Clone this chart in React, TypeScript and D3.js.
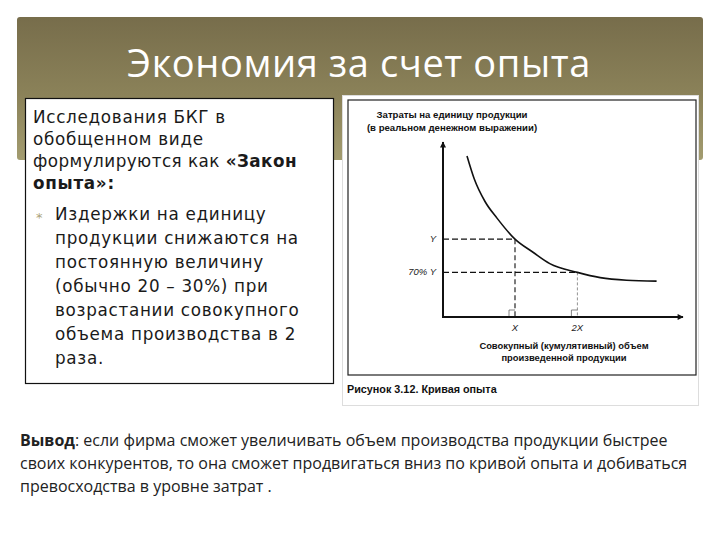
import React from 'react';
import * as d3 from 'd3';

// curve (volume and unit cost in arbitrary units, 0..100)
const volume = [10, 13, 17.5, 22.5, 30, 37.5, 44.5, 56, 65.5, 76.5, 89];
const unitCost = [92, 79, 66, 56.5, 44.5, 37, 30.5, 25.5, 22.5, 21, 20.5];

// marked points on the curve
const markVolume = [30, 56];
const markCost = [44.5, 25.5];
const xTickLabels = ['X', '2X'];
const yTickLabels = ['Y', '70% Y'];

const titleText = 'Экономия за счет опыта';
const yAxisTitle = ['Затраты на единицу продукции', '(в реальном денежном выражении)'];
const xAxisTitle = ['Совокупный (кумулятивный) объем', 'произведенной продукции'];
const figCaption = 'Рисунок 3.12. Кривая опыта';

const FONT = '"Open Sans", "Noto Sans", sans-serif';
const BOX_FONT = '"DejaVu Sans", "Open Sans", sans-serif';
const CHART_FONT = '"Liberation Sans", Arial, sans-serif';

function App() {
  const x = d3.scaleLinear().domain([0, 100]).range([443, 683]);
  const y = d3.scaleLinear().domain([0, 100]).range([317, 142]);

  const pts: [number, number][] = volume.map((v, i) => [v, unitCost[i]]);
  const line = d3.line<[number, number]>()
    .x(d => x(d[0]))
    .y(d => y(d[1]))
    .curve(d3.curveMonotoneX);

  const x0 = x(0), y0 = y(0);

  return (
    <svg width={720} height={540} style={{ position: 'absolute', left: 0, top: 0, background: '#fff' }}>
      <defs>
        <linearGradient id="hdr" x1="0" y1="0" x2="0" y2="1">
          <stop offset="0" stopColor="#776d4b" />
          <stop offset="0.55" stopColor="#8b8259" />
          <stop offset="1" stopColor="#a39c70" />
        </linearGradient>
        <marker id="arr" viewBox="0 0 10 10" refX="9" refY="5" markerWidth="10" markerHeight="6"
          markerUnits="userSpaceOnUse" orient="auto">
          <path d="M0,0 L10,5 L0,10 z" fill="#111" />
        </marker>
      </defs>

      {/* header band */}
      <rect x={17} y={17} width={686} height={143} rx={3} fill="url(#hdr)" />
      <text x={359} y={77} textAnchor="middle" fontFamily={FONT} fontSize={38} letterSpacing={0.6} fill="#fff">
        {titleText}
      </text>

      {/* left text box */}
      <rect x={25.5} y={98.5} width={308} height={285} fill="#fff" stroke="#111" strokeWidth={1.2} />
      <g fontFamily={BOX_FONT} fontSize={16.8} letterSpacing={0.7} fill="#1a1a1a">
        <text x={33} y={123}>Исследования БКГ в</text>
        <text x={33} y={145}>обобщенном виде</text>
        <text x={33} y={167} letterSpacing={0.45}>формулируются как <tspan fontWeight="bold">«Закон</tspan></text>
        <text x={33} y={189} fontWeight="bold">опыта»:</text>
        <text x={36} y={222} fontSize={13} fill="#aaa27a">*</text>
        <text x={55} y={220}>Издержки на единицу</text>
        <text x={55} y={244}>продукции снижаются на</text>
        <text x={55} y={268}>постоянную величину</text>
        <text x={55} y={292}>(обычно 20 – 30%) при</text>
        <text x={55} y={316}>возрастании  совокупного</text>
        <text x={55} y={340}>объема производства в 2</text>
        <text x={55} y={364}>раза.</text>
      </g>

      {/* figure image area */}
      <rect x={342.5} y={95.5} width={356} height={310} fill="#fff" stroke="#ddd" strokeWidth={1} />
      <rect x={348} y={100} width={348} height={275} fill="none" stroke="#222" strokeWidth={1.2} />

      <g fontFamily={CHART_FONT} fill="#111">
        {yAxisTitle.map((t, i) => (
          <text key={t} x={452} y={118 + i * 13} textAnchor="middle" fontSize={9.6} fontWeight="bold">{t}</text>
        ))}
        {xAxisTitle.map((t, i) => (
          <text key={t} x={564} y={349 + i * 12} textAnchor="middle" fontSize={9.4} fontWeight="bold">{t}</text>
        ))}
        <text x={347} y={393} fontSize={10.8} fontWeight="bold">{figCaption}</text>
      </g>

      {/* guide lines to the marked points */}
      {markVolume.map((v, i) => (
        <g key={'m' + i}>
          <line x1={x0} x2={x(v)} y1={y(markCost[i])} y2={y(markCost[i])}
            stroke="#111" strokeWidth={1.2} strokeDasharray="6,3" />
          <line x1={x(v)} x2={x(v)} y1={y(markCost[i])} y2={y0}
            stroke={i === 0 ? '#111' : '#777'} strokeWidth={i === 0 ? 1.1 : 0.8}
            strokeDasharray={i === 0 ? '5,3' : '3,2'} />
          <path d={`M${x(v) - 6},${y0} V${y0 - 7} H${x(v)}`} fill="none" stroke="#666" strokeWidth={0.8} />
          <text x={x(v)} y={y0 + 14} textAnchor="middle" fontFamily={CHART_FONT} fontSize={9.5}
            fontStyle="italic" fill="#222">{xTickLabels[i]}</text>
          <text x={x0 - 7} y={y(markCost[i]) + 3} textAnchor="end" fontFamily={CHART_FONT} fontSize={9.5}
            fontStyle="italic" fill="#222">{yTickLabels[i]}</text>
        </g>
      ))}

      {/* axes */}
      <line x1={x0} y1={y0 + 1} x2={x0} y2={y(100)} stroke="#111" strokeWidth={2} markerEnd="url(#arr)" />
      <line x1={x0 - 1} y1={y0} x2={x(100)} y2={y0} stroke="#111" strokeWidth={2} markerEnd="url(#arr)" />

      {/* experience curve */}
      <path d={line(pts) ?? ''} fill="none" stroke="#111" strokeWidth={1.6} />

      {/* conclusion */}
      <g fontFamily={FONT} fontSize={16} fill="#222">
        <text x={20} y={446}><tspan fontWeight="bold">Вывод</tspan>: если фирма сможет увеличивать объем производства продукции  быстрее</text>
        <text x={20} y={469}>своих конкурентов, то она сможет продвигаться вниз по кривой опыта и добиваться</text>
        <text x={20} y={492}>превосходства в уровне затрат .</text>
      </g>
    </svg>
  );
}

export default App;
